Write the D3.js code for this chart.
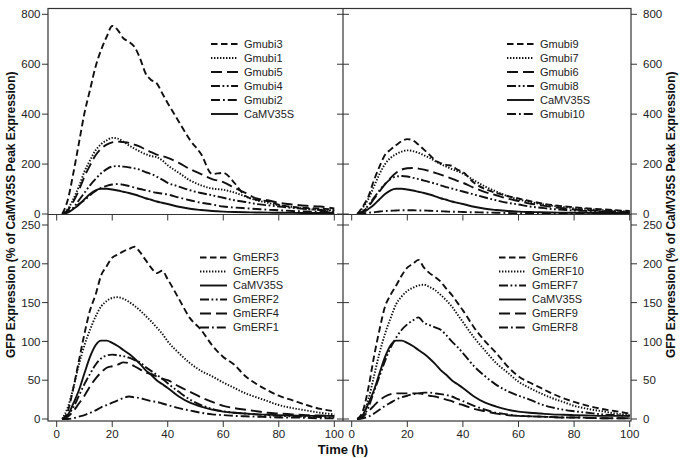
<!DOCTYPE html>
<html>
<head>
<meta charset="utf-8">
<script src="https://cdn.jsdelivr.net/npm/d3@7"></script>
<style>
  body { margin: 0; background: #fff; }
  svg { font-family: "Liberation Sans", Arial, sans-serif; }
</style>
</head>
<body>
<div id="chart"></div>
<script>
// sampling times (h)
const times = [2, 4, 6, 8, 10, 12, 14, 16, 18, 20, 22, 24, 26, 28, 30, 32, 34, 36, 38, 40,
               44, 48, 52, 56, 60, 64, 68, 72, 76, 80, 85, 90, 95, 100]

const camv35s = [0, 5, 20, 37, 59, 80, 95, 101, 101, 98, 94, 89, 84, 78, 71, 63, 57, 50, 45, 40,
                 29, 21, 16, 12, 9.5, 8, 7, 6, 5.5, 5, 4.5, 4, 4, 4]

// top left
const gmubi3 = [0, 57, 164, 284, 404, 497, 590, 657, 710, 753, 737, 704, 690, 670, 624, 564, 537, 524, 484, 444,
                370, 297, 240, 160, 165, 125, 72, 57, 51, 37, 28, 24, 22, 17]
const gmubi1 = [0, 20, 60, 110, 170, 215, 255, 280, 295, 305, 302, 290, 275, 262, 250, 240, 232, 228, 215, 195,
                165, 135, 115, 102, 97, 86, 70, 55, 45, 35, 28, 20, 17, 15]
const gmubi5 = [0, 15, 50, 95, 150, 195, 235, 262, 278, 287, 290, 288, 285, 278, 270, 258, 248, 238, 232, 225,
                205, 180, 160, 140, 128, 105, 85, 62, 55, 45, 38, 33, 30, 22]
const gmubi4 = [0, 10, 25, 55, 85, 115, 140, 163, 180, 190, 192, 190, 187, 183, 177, 168, 160, 150, 138, 125,
                110, 95, 84, 75, 65, 55, 48, 40, 35, 30, 24, 20, 16, 12]
const gmubi2 = [0, 8, 22, 40, 55, 75, 92, 105, 113, 118, 120, 117, 112, 106, 100, 95, 90, 85, 82, 78,
                66, 55, 45, 38, 30, 26, 23, 20, 17, 15, 12, 10, 9, 8]

// top right
const gmubi9 = [0, 30, 70, 135, 190, 237, 258, 276, 292, 300, 295, 278, 258, 237, 215, 204, 197, 193, 178, 168,
                125, 100, 84, 72, 62, 52, 43, 36, 31, 27, 22, 19, 15, 12]
const gmubi7 = [0, 25, 60, 110, 160, 200, 225, 240, 250, 255, 252, 245, 235, 225, 212, 200, 190, 180, 172, 162,
                135, 110, 90, 72, 58, 48, 40, 33, 28, 23, 20, 16, 13, 10]
const gmubi6 = [0, 10, 30, 60, 90, 120, 145, 165, 178, 183, 184, 182, 178, 172, 165, 158, 150, 142, 133, 125,
                105, 88, 75, 62, 52, 42, 35, 28, 23, 18, 15, 12, 10, 7]
const gmubi8 = [0, 10, 35, 65, 95, 120, 140, 150, 152, 150, 145, 140, 134, 128, 122, 115, 108, 102, 96, 90,
                78, 66, 55, 45, 38, 30, 25, 20, 17, 14, 12, 10, 8, 6]
const gmubi10 = [0, 2, 5, 7, 10, 12, 13, 14, 15, 15, 15, 14, 14, 13, 12, 11, 10, 9, 9, 8,
                 7, 6, 5, 4, 3, 3, 2, 2, 2, 2, 1, 1, 1, 1]

// bottom left
const gmerf3 = [0, 10, 40, 75, 110, 140, 160, 185, 197, 208, 212, 216, 219, 222, 215, 205, 195, 188, 191, 180,
                155, 130, 115, 95, 80, 70, 55, 45, 37, 30, 24, 18, 13, 10]
const gmerf5 = [0, 15, 40, 70, 95, 115, 132, 145, 152, 156, 157, 155, 151, 146, 140, 133, 126, 118, 110, 100,
                85, 72, 62, 55, 47, 40, 33, 28, 23, 18, 14, 11, 8, 6]
const gmerf2 = [0, 5, 15, 30, 45, 58, 70, 78, 82, 83, 82, 81, 79, 76, 73, 67, 62, 57, 52, 46,
                35, 25, 18, 13, 10, 8, 7, 6, 5, 4, 3.5, 3, 2.5, 2]
const gmerf4 = [0, 3, 10, 20, 30, 42, 52, 60, 66, 68, 70, 73, 72, 68, 64, 60, 58, 55, 52, 50,
                42, 35, 28, 22, 17, 14, 12, 10, 8, 7, 6, 5, 4.5, 4]
const gmerf1 = [0, 0, 1, 3, 5, 8, 11, 15, 18, 21, 24, 27, 29, 28, 27, 25, 23, 22, 20, 18,
                14, 11, 8, 6, 5, 4, 3.5, 3, 2.5, 2, 2, 1.5, 1, 1]

// bottom right
const gmerf6 = [0, 10, 40, 80, 115, 145, 160, 172, 185, 195, 200, 205, 195, 188, 183, 177, 168, 160, 150, 140,
                118, 100, 85, 68, 55, 47, 40, 33, 27, 22, 17, 13, 10, 7]
const gmerf10 = [0, 5, 25, 55, 85, 110, 130, 148, 158, 165, 169, 172, 173, 170, 166, 160, 153, 145, 135, 125,
                 105, 88, 72, 60, 48, 40, 33, 27, 22, 17, 13, 10, 7, 5]
const gmerf7 = [0, 3, 15, 35, 55, 75, 92, 105, 115, 122, 127, 131, 124, 121, 118, 115, 108, 100, 93, 85,
                68, 55, 44, 36, 30, 25, 19, 15, 12, 10, 8, 6, 5, 4]
const gmerf9 = [0, 3, 10, 17, 24, 29, 32, 33, 33, 33, 33, 33, 32, 30, 29, 27, 25, 23, 20, 18,
                13, 10, 7, 5, 4, 3.5, 3, 2.5, 2, 2, 1.5, 1, 1, 1]
const gmerf8 = [0, 1, 3, 7, 12, 17, 21, 25, 28, 30, 32, 33, 34, 34, 33, 32, 31, 29, 26, 23,
                17, 12, 8, 6, 4, 3.5, 3, 2.5, 2, 2, 1.5, 1, 1, 1]

const xTicks = [0, 20, 40, 60, 80, 100]
const topTicks = [0, 200, 400, 600, 800]
const bottomTicks = [0, 50, 100, 150, 200, 250]

const DASH = {
    shortDash: "6.5,3.5",
    dotted: "1.4,1.6",
    longDash: "11,5",
    dashDotDot: "9,2.5,1.8,2.5,1.8,2.5",
    dashDot: "9,3,1.8,3",
    solid: null
}

const W = 685, H = 458
const frame = { left: 48, mid: 343, right: 631, top: 8.5, midY: 214.5, bottom: 421 }

const xLeft = d3.scaleLinear().domain([0, 100]).range([56.7, 334.3])
const xRight = d3.scaleLinear().domain([0, 100]).range([351.7, 629.7])
const yTop = d3.scaleLinear().domain([0, 800]).range([214, 14.3])
const yBottom = d3.scaleLinear().domain([0, 250]).range([419, 225])

const panels = [
    { x: xLeft, y: yTop, legendX: 211, legendY: 44, series: [
        { name: "Gmubi3", values: gmubi3, dash: DASH.shortDash },
        { name: "Gmubi1", values: gmubi1, dash: DASH.dotted },
        { name: "Gmubi5", values: gmubi5, dash: DASH.longDash },
        { name: "Gmubi4", values: gmubi4, dash: DASH.dashDotDot },
        { name: "Gmubi2", values: gmubi2, dash: DASH.dashDot },
        { name: "CaMV35S", values: camv35s, dash: DASH.solid }] },
    { x: xRight, y: yTop, legendX: 507, legendY: 44, series: [
        { name: "Gmubi9", values: gmubi9, dash: DASH.shortDash },
        { name: "Gmubi7", values: gmubi7, dash: DASH.dotted },
        { name: "Gmubi6", values: gmubi6, dash: DASH.longDash },
        { name: "Gmubi8", values: gmubi8, dash: DASH.dashDotDot },
        { name: "CaMV35S", values: camv35s, dash: DASH.solid },
        { name: "Gmubi10", values: gmubi10, dash: DASH.dashDot }] },
    { x: xLeft, y: yBottom, legendX: 200, legendY: 257.5, series: [
        { name: "GmERF3", values: gmerf3, dash: DASH.shortDash },
        { name: "GmERF5", values: gmerf5, dash: DASH.dotted },
        { name: "CaMV35S", values: camv35s, dash: DASH.solid },
        { name: "GmERF2", values: gmerf2, dash: DASH.dashDotDot },
        { name: "GmERF4", values: gmerf4, dash: DASH.longDash },
        { name: "GmERF1", values: gmerf1, dash: DASH.dashDot }] },
    { x: xRight, y: yBottom, legendX: 499, legendY: 257.5, series: [
        { name: "GmERF6", values: gmerf6, dash: DASH.shortDash },
        { name: "GmERF10", values: gmerf10, dash: DASH.dotted },
        { name: "GmERF7", values: gmerf7, dash: DASH.dashDotDot },
        { name: "CaMV35S", values: camv35s, dash: DASH.solid },
        { name: "GmERF9", values: gmerf9, dash: DASH.longDash },
        { name: "GmERF8", values: gmerf8, dash: DASH.dashDot }] }
]

const svg = d3.select("#chart").append("svg")
    .attr("width", W)
    .attr("height", H)

const ink = "#111"
const frameColor = "#333"
const TICK = 6

// curves
panels.forEach(function (p) {
    const line = d3.line()
        .x(function (d, i) { return p.x(times[i]) })
        .y(function (d) { return p.y(d) })
        .curve(d3.curveMonotoneX)

    const g = svg.append("g")
    p.series.forEach(function (s) {
        g.append("path")
            .attr("d", line(s.values))
            .attr("fill", "none")
            .attr("stroke", ink)
            .attr("stroke-width", 1.9)
            .attr("stroke-dasharray", s.dash)
    })

    // legend
    const lg = svg.append("g").attr("transform", "translate(" + p.legendX + "," + p.legendY + ")")
    p.series.forEach(function (s, i) {
        const row = lg.append("g").attr("transform", "translate(0," + (i * 14) + ")")
        row.append("line")
            .attr("x1", 0).attr("x2", 27)
            .attr("stroke", ink)
            .attr("stroke-width", 1.9)
            .attr("stroke-dasharray", s.dash)
        row.append("text")
            .attr("x", 33)
            .attr("dy", "0.36em")
            .attr("font-size", 11)
            .attr("fill", "#222")
            .text(s.name)
    })
})

// frames
const fg = svg.append("g").attr("fill", "none").attr("stroke", frameColor).attr("stroke-width", 1.2)
fg.append("rect")
    .attr("x", frame.left).attr("y", frame.top)
    .attr("width", frame.right - frame.left).attr("height", frame.bottom - frame.top)
fg.append("line").attr("x1", frame.mid).attr("x2", frame.mid).attr("y1", frame.top).attr("y2", frame.bottom)
fg.append("line").attr("x1", frame.left).attr("x2", frame.right).attr("y1", frame.midY).attr("y2", frame.midY)

// y axes
function yAxes(yScale, ticks) {
    const g = svg.append("g").attr("stroke", frameColor).attr("stroke-width", 1)
    ticks.forEach(function (t) {
        const y = yScale(t)
        g.append("line").attr("x1", frame.left - TICK).attr("x2", frame.left).attr("y1", y).attr("y2", y)
        g.append("line").attr("x1", frame.mid - TICK).attr("x2", frame.mid + TICK).attr("y1", y).attr("y2", y)
        g.append("line").attr("x1", frame.right).attr("x2", frame.right + TICK).attr("y1", y).attr("y2", y)
    })
    svg.append("g").attr("font-size", 11.5).attr("fill", "#222")
        .selectAll("text.l").data(ticks).enter().append("text")
        .attr("x", frame.left - 7.5)
        .attr("y", function (d) { return yScale(d) })
        .attr("dy", "0.36em")
        .attr("text-anchor", "end")
        .text(function (d) { return d })
    svg.append("g").attr("font-size", 11.5).attr("fill", "#222")
        .selectAll("text.r").data(ticks).enter().append("text")
        .attr("x", frame.right + 12)
        .attr("y", function (d) { return yScale(d) })
        .attr("dy", "0.36em")
        .text(function (d) { return d })
}
yAxes(yTop, topTicks)
yAxes(yBottom, bottomTicks)

// x axes
function xAxis(xScale, yPos, labels) {
    const g = svg.append("g").attr("stroke", frameColor).attr("stroke-width", 1)
    xTicks.forEach(function (t) {
        g.append("line").attr("x1", xScale(t)).attr("x2", xScale(t)).attr("y1", yPos).attr("y2", yPos + TICK)
    })
    if (!labels) return
    svg.append("g").attr("font-size", 11.5).attr("fill", "#222")
        .selectAll("text").data(xTicks).enter().append("text")
        .attr("x", function (d) { return xScale(d) })
        .attr("y", frame.bottom + 16.5)
        .attr("text-anchor", "middle")
        .text(function (d) { return d })
}
xAxis(xLeft, frame.midY, false)
xAxis(xRight, frame.midY, false)
xAxis(xLeft, frame.bottom, true)
xAxis(xRight, frame.bottom, true)

// titles
const yTitle = "GFP Expression (% of CaMV35S Peak Expression)"
svg.append("text")
    .attr("transform", "translate(15," + ((frame.top + frame.bottom) / 2) + ") rotate(-90)")
    .attr("text-anchor", "middle")
    .attr("font-size", 12)
    .attr("font-weight", "bold")
    .attr("fill", "#111")
    .text(yTitle)
svg.append("text")
    .attr("transform", "translate(675," + ((frame.top + frame.bottom) / 2) + ") rotate(-90)")
    .attr("text-anchor", "middle")
    .attr("font-size", 12)
    .attr("font-weight", "bold")
    .attr("fill", "#111")
    .text(yTitle)
svg.append("text")
    .attr("x", frame.mid)
    .attr("y", 454)
    .attr("text-anchor", "middle")
    .attr("font-size", 13)
    .attr("font-weight", "bold")
    .attr("fill", "#111")
    .text("Time (h)")
</script>
</body>
</html>
